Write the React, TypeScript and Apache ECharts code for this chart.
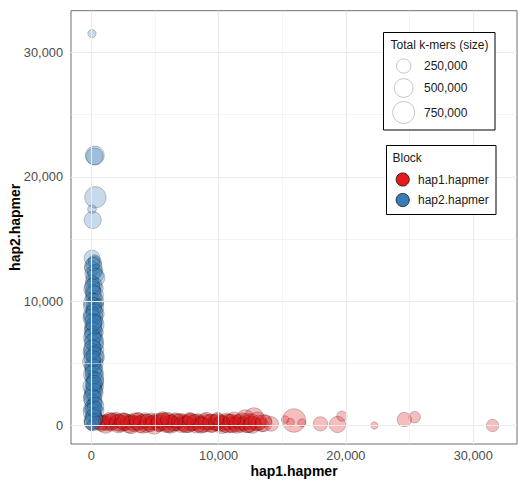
import React, { useEffect, useRef } from "react";
import * as echarts from "echarts";

// [hap1.hapmer, hap2.hapmer, total k-mers in thousands]
const hap1Points: number[][] = [
  [0, 0, 60], [450, 120, 90], [620, 350, 140], [780, 60, 200], [900, 420, 110],
  [1050, 200, 260], [1180, 520, 80], [1300, 90, 180], [1420, 300, 320], [1560, 30, 150],
  [1700, 450, 230], [1820, 180, 90], [1950, 600, 140], [2080, 250, 380], [2200, 60, 210],
  [2330, 400, 120], [2460, 150, 280], [2590, 520, 170], [2700, 20, 90], [2820, 310, 240],
  [2950, 100, 410], [3080, 470, 130], [3200, 230, 300], [3330, 40, 190], [3460, 380, 100],
  [3590, 150, 260], [3720, 560, 150], [3850, 80, 350], [3980, 290, 210], [4100, 10, 120],
  [4230, 420, 280], [4360, 170, 460], [4500, 330, 90], [4620, 60, 220], [4750, 500, 180],
  [4880, 240, 310], [5000, 100, 140], [5130, 380, 250], [5260, 20, 170], [5400, 280, 420],
  [5530, 150, 110], [5660, 450, 230], [5800, 70, 300], [5920, 330, 160], [6050, 190, 520],
  [6180, 30, 200], [6320, 410, 130], [6450, 140, 270], [6580, 260, 380], [6700, 60, 150],
  [6850, 350, 240], [6980, 120, 190], [7100, 470, 100], [7250, 200, 330], [7380, 40, 260],
  [7520, 310, 140], [7650, 160, 450], [7800, 420, 210], [7930, 80, 170], [8080, 250, 300],
  [8220, 20, 120], [8360, 380, 230], [8500, 130, 350], [8640, 270, 160], [8780, 50, 280],
  [8920, 440, 190], [9060, 180, 400], [9200, 90, 130], [9350, 330, 250], [9500, 10, 210],
  [9640, 230, 310], [9800, 120, 150], [9950, 380, 270], [10100, 60, 190], [10260, 200, 360],
  [10400, 300, 120], [10550, 30, 240], [10700, 150, 500], [10850, 400, 170], [11000, 90, 290],
  [11150, 250, 210], [11300, 20, 140], [11460, 170, 380], [11620, 340, 230], [11780, 70, 300],
  [11950, 210, 160], [12100, 450, 600], [12280, 120, 420], [12450, 30, 250], [12600, 300, 330],
  [12780, 640, 560], [12950, 90, 190], [13150, 220, 280], [13400, 40, 210], [13700, 380, 150],
  [14130, 130, 260], [15230, 480, 30], [15650, 265, 35], [15920, 403, 880], [16550, 215, 40],
  [18000, 135, 250], [19340, 80, 350], [19690, 750, 90], [22240, 0, 25], [24590, 480, 250],
  [25400, 670, 130], [31520, 0, 160],
  [560, 260, 300], [1120, 80, 420], [1640, 330, 350], [2140, 140, 460], [2640, 280, 390],
  [3140, 60, 440], [3640, 350, 370], [4040, 130, 500], [4440, 260, 330], [4940, 40, 480],
  [5340, 190, 360], [5740, 320, 410], [6240, 100, 450], [6640, 400, 300], [7040, 210, 520],
  [7440, 90, 380], [7840, 280, 430], [8240, 150, 490], [8640, 30, 340], [9040, 360, 410],
  [9440, 170, 470], [9840, 250, 350], [10240, 70, 430], [10640, 330, 390], [11040, 160, 480],
  [11440, 40, 360], [11840, 300, 450], [12240, 200, 520], [12640, 60, 400], [13040, 350, 470],
  [13540, 180, 380], [1400, 520, 200], [3400, 500, 180], [5600, 560, 220], [7700, 520, 200],
  [9900, 540, 190], [11200, 520, 240], [800, 220, 250], [2400, 380, 300], [6000, 480, 260],
];

const hap2Points: number[][] = [
  [50, 31530, 40], [270, 21720, 520], [250, 21650, 380], [320, 18360, 700], [55, 17400, 50],
  [110, 16530, 400], [60, 13470, 330], [240, 13250, 150], [280, 13100, 200], [150, 12800, 420],
  [30, 12650, 240], [420, 12500, 160], [90, 12200, 280], [350, 12050, 300], [330, 11900, 500],
  [40, 11600, 180], [190, 11450, 160], [200, 11300, 350], [500, 11050, 120], [70, 10950, 380],
  [110, 10800, 260], [260, 10500, 430], [310, 10350, 190], [20, 10250, 150], [380, 10000, 300],
  [90, 9900, 440], [550, 9800, 100], [140, 9750, 220], [300, 9500, 380], [230, 9350, 270],
  [60, 9250, 170], [450, 9000, 250], [10, 8900, 350], [180, 8750, 480], [30, 8500, 200],
  [410, 8400, 200], [350, 8250, 140], [220, 8000, 320], [140, 7900, 390], [90, 7750, 260],
  [520, 7500, 110], [60, 7400, 230], [160, 7250, 410], [280, 7000, 190], [300, 6900, 340],
  [40, 6750, 300], [400, 6500, 230], [190, 6350, 180], [120, 6250, 370], [560, 6100, 110],
  [240, 6000, 160], [50, 5900, 420], [10, 5750, 280], [330, 5500, 440], [360, 5350, 260],
  [170, 5250, 200], [480, 5000, 130], [110, 4900, 300], [80, 4750, 340], [260, 4500, 250],
  [230, 4350, 450], [20, 4250, 180], [370, 4000, 310], [70, 3850, 240], [130, 3750, 220],
  [300, 3500, 400], [380, 3350, 190], [50, 3250, 160], [540, 3100, 100], [200, 3000, 290],
  [160, 2850, 420], [440, 2750, 120], [100, 2500, 360], [20, 2350, 330], [250, 2250, 210],
  [30, 2000, 270], [280, 1850, 250], [350, 1750, 180], [150, 1500, 330], [90, 1350, 410],
  [60, 1250, 240], [600, 1200, 90], [290, 1000, 150], [210, 850, 280], [120, 750, 300],
  [400, 500, 200], [70, 400, 350], [30, 250, 260], [180, 100, 120], [0, 0, 80],
  [100, 9600, 460], [250, 9100, 380], [40, 8650, 420], [300, 8100, 450], [150, 7600, 470],
  [60, 7100, 400], [230, 6700, 490], [90, 6150, 440], [280, 5650, 410], [30, 5100, 470],
  [200, 4650, 380], [120, 4100, 500], [320, 3650, 360], [40, 3150, 450], [240, 2650, 430],
  [110, 2150, 480], [330, 1600, 370], [50, 1100, 440], [200, 600, 400], [100, 250, 380],
  [170, 10650, 300], [60, 11200, 280], [260, 12350, 260], [130, 13000, 220], [150, 8300, 380],
  [70, 5400, 350], [180, 3400, 330], [250, 1300, 300],
];

const xTicks = [0, 10000, 20000, 30000];
const yTicks = [0, 10000, 20000, 30000];
const minorBreaks = [5000, 15000, 25000];
const sizeBreaks = [250000, 500000, 750000];
const blockNames = ["hap1.hapmer", "hap2.hapmer"];
const blockColors = ["#E41A1C", "#377EB8"];

const FONT = "'Liberation Sans', Arial, Helvetica, sans-serif";

// point diameter grows with the square root of total k-mers
function diameter(kmers: number): number {
  return 4 + 18 * Math.sqrt(kmers / 750000);
}

function fmt(v: number): string {
  return v.toLocaleString("en-US");
}

function rgba(hex: string, a: number): string {
  const n = parseInt(hex.slice(1), 16);
  return `rgba(${(n >> 16) & 255},${(n >> 8) & 255},${n & 255},${a})`;
}

function legendText(id: string, x: number, y: number, text: string) {
  return {
    id,
    type: "text",
    x,
    y,
    z: 10,
    style: {
      text,
      font: `12px ${FONT}`,
      fill: "#1a1a1a",
      align: "left",
      verticalAlign: "middle",
    },
  };
}

export default function App() {
  const ref = useRef<HTMLDivElement>(null);

  useEffect(() => {
    if (!ref.current) return;
    const chart = echarts.init(ref.current, undefined, { renderer: "svg" });

    const gridLines: any[] = [];
    xTicks.forEach((v) => gridLines.push({ xAxis: v, lineStyle: { width: 1.1 } }));
    minorBreaks.forEach((v) => gridLines.push({ xAxis: v, lineStyle: { width: 0.55 } }));
    yTicks.forEach((v) => gridLines.push({ yAxis: v, lineStyle: { width: 1.1 } }));
    minorBreaks.forEach((v) => gridLines.push({ yAxis: v, lineStyle: { width: 0.55 } }));

    const toData = (pts: number[][]) => pts.map((p) => [p[0], p[1], p[2] * 1000]);

    const legendGraphics: any[] = [];
    // size legend
    legendGraphics.push({
      id: "sizeBox",
      type: "rect",
      z: 9,
      shape: { x: 383.5, y: 32.5, width: 111.5, height: 97.5 },
      style: { fill: "#fff", stroke: "#000", lineWidth: 1 },
    });
    legendGraphics.push(legendText("sizeTitle", 390.5, 44.5, "Total k-mers (size)"));
    const sizeRowY = [66, 88, 112.5];
    sizeBreaks.forEach((b, i) => {
      legendGraphics.push({
        id: `sizeKey${i}`,
        type: "circle",
        z: 10,
        shape: { cx: 403.7, cy: sizeRowY[i], r: diameter(b) / 2 },
        style: { fill: "#fff", stroke: "#c4c4c4", lineWidth: 1 },
      });
      legendGraphics.push(legendText(`sizeLabel${i}`, 424, sizeRowY[i], fmt(b)));
    });
    // colour legend
    legendGraphics.push({
      id: "blockBox",
      type: "rect",
      z: 9,
      shape: { x: 386.5, y: 145.5, width: 109.5, height: 69 },
      style: { fill: "#fff", stroke: "#000", lineWidth: 1 },
    });
    legendGraphics.push(legendText("blockTitle", 392.5, 158, "Block"));
    const blockRowY = [179.5, 200];
    blockNames.forEach((name, i) => {
      legendGraphics.push({
        id: `blockKey${i}`,
        type: "circle",
        z: 10,
        shape: { cx: 402.7, cy: blockRowY[i], r: 6.6 },
        style: { fill: blockColors[i], stroke: "#111", lineWidth: 0.8 },
      });
      legendGraphics.push(legendText(`blockLabel${i}`, 418, blockRowY[i], name));
    });

    const scatter = (name: string, pts: number[][], color: string, z: number) => ({
      name,
      type: "scatter",
      z,
      data: toData(pts),
      symbolSize: (v: number[]) => diameter(v[2]),
      itemStyle: {
        color: rgba(color, 0.36),
        borderColor: "rgba(0,0,0,0.45)",
        borderWidth: 0.6,
      },
      emphasis: { disabled: true },
    });

    chart.setOption({
      animation: false,
      backgroundColor: "#fff",
      textStyle: { fontFamily: FONT },
      grid: {
        left: 71,
        top: 10.7,
        width: 446,
        height: 433.3,
        show: true,
        borderColor: "#6f6f6f",
        borderWidth: 1,
        backgroundColor: "#fff",
        containLabel: false,
        outerBoundsMode: "none",
      },
      xAxis: {
        type: "value",
        min: -1595,
        max: 33441,
        splitLine: { show: false },
        axisLine: { show: false },
        axisTick: { show: true, customValues: xTicks, length: 3.5, lineStyle: { color: "#333", width: 1 } },
        axisLabel: {
          customValues: xTicks,
          formatter: (v: number) => fmt(v),
          color: "#4d4d4d",
          fontSize: 12.8,
          fontFamily: FONT,
          margin: 5,
        },
        name: "hap1.hapmer",
        nameLocation: "middle",
        nameGap: 20,
        nameMoveOverlap: false,
        nameTextStyle: { fontWeight: "bold", fontSize: 14, color: "#000", fontFamily: FONT },
      },
      yAxis: {
        type: "value",
        min: -1488,
        max: 33370,
        splitLine: { show: false },
        axisLine: { show: false },
        axisTick: { show: true, customValues: yTicks, length: 3.5, lineStyle: { color: "#333", width: 1 } },
        axisLabel: {
          customValues: yTicks,
          formatter: (v: number) => fmt(v),
          color: "#4d4d4d",
          fontSize: 12.8,
          fontFamily: FONT,
          margin: 8,
        },
        name: "hap2.hapmer",
        nameLocation: "middle",
        nameGap: 49,
        nameMoveOverlap: false,
        nameTextStyle: { fontWeight: "bold", fontSize: 14, color: "#000", fontFamily: FONT },
      },
      series: [
        {
          name: "grid",
          type: "scatter",
          z: 1,
          data: [],
          silent: true,
          markLine: {
            silent: true,
            symbol: ["none", "none"],
            label: { show: false },
            lineStyle: { color: "#ebebeb", type: "solid" },
            emphasis: { disabled: true },
            data: gridLines,
          },
        },
        scatter(blockNames[0], hap1Points, blockColors[0], 2),
        scatter(blockNames[1], hap2Points, blockColors[1], 3),
      ],
      graphic: legendGraphics,
    });

    return () => chart.dispose();
  }, []);

  return (
    <div
      ref={ref}
      style={{ position: "absolute", left: 0, top: 0, width: 518, height: 484 }}
    />
  );
}
